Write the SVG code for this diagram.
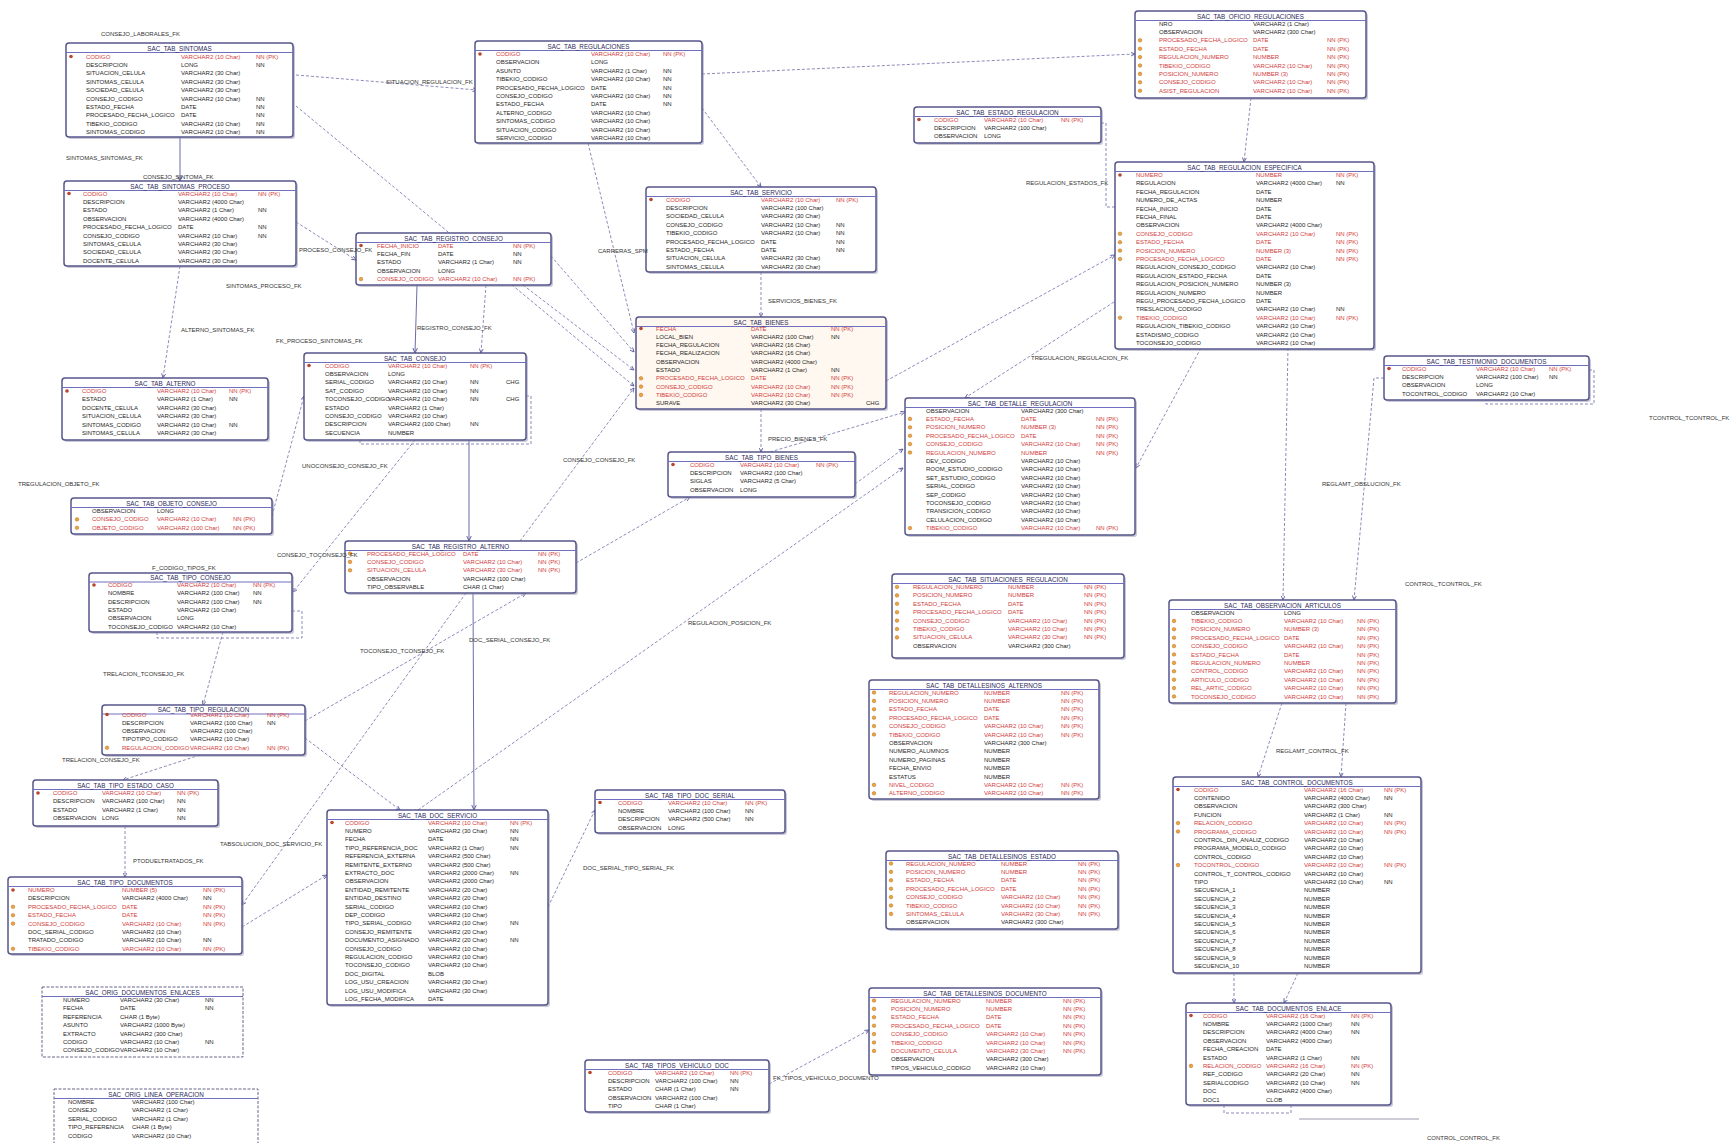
<svg xmlns="http://www.w3.org/2000/svg" xmlns:xlink="http://www.w3.org/1999/xlink" width="1730" height="1143" viewBox="0 0 1730 1143">
<style>
.bg{fill:#fff}
.box{fill:#fff;stroke:#55558a;stroke-width:1.5}
.boxd{fill:#fff;stroke:#66668a;stroke-width:1;stroke-dasharray:3 1.5}
.tint{fill:#fff8f0}
.sh{fill:#9c9cb8;opacity:.55}
.hd{stroke:#6f6fc0;stroke-width:1}
.tt{font-family:"Liberation Sans",Arial,sans-serif;font-size:6.3px;fill:#2a2a5a;text-anchor:middle}
.r{font-family:"Liberation Sans",Arial,sans-serif;font-size:6px;fill:#262626}
.k{fill:#d23c3c}
.lb{font-family:"Liberation Sans",Arial,sans-serif;font-size:6px;fill:#333}
.c{fill:none;stroke:#6d6daa;stroke-width:.8;stroke-dasharray:3 2;marker-end:url(#ar)}
.cs{fill:none;stroke:#5a5aa0;stroke-width:.9;marker-end:url(#ar)}
.cl{fill:none;stroke:#6d6daa;stroke-width:.8;stroke-dasharray:3 2}
</style>
<defs>
<marker id="ar" viewBox="0 0 6 6" refX="5.5" refY="3" markerWidth="6" markerHeight="6" orient="auto">
<path d="M0,0.5 L5.5,3 L0,5.5" fill="none" stroke="#4f4f95" stroke-width="1"/>
</marker>
<circle id="pk" r="1.8" fill="#b8452c"/>
<circle id="fk" r="1.8" fill="#f2a43a" stroke="#9a5a12" stroke-width=".4"/>
</defs>
<rect class="bg" x="0" y="0" width="1730" height="1143"/>

<g id="connectors">
<path class="c" d="M296,75 L477,90"/>
<path class="c" d="M296,106 L634,386"/>
<path class="cs" d="M180,137 L180,181"/>
<path class="c" d="M180,266 L163,378"/>
<path class="c" d="M296,222 L356,260"/>
<path class="c" d="M551,256 L634,352"/>
<path class="c" d="M523,285 L634,370"/>
<path class="c" d="M588,143 L634,333"/>
<path class="c" d="M702,74 L1135,54"/>
<path class="c" d="M702,108 L761,187"/>
<path class="cs" d="M417,285 L415,353"/>
<path class="c" d="M486,285 L481,353"/>
<path class="c" d="M761,272 L761,317"/>
<path class="c" d="M761,409 L761,452"/>
<path class="c" d="M272,516 L304,396"/>
<path class="c" d="M415,440 L293,592"/>
<path class="cl" d="M360,440 V444 H531 V396 H526"/>
<path class="cl" d="M292,611 H302 V638 H157 V632"/>
<path class="c" d="M223,632 L203,705"/>
<path class="c" d="M305,721 L526,593"/>
<path class="c" d="M466,593 L242,905"/>
<path class="c" d="M305,738 L400,810"/>
<path class="c" d="M242,927 L327,875"/>
<path class="c" d="M125,826 L125,877"/>
<path class="c" d="M200,755 L123,780"/>
<path class="cs" d="M469,440 L469,541"/>
<path class="cs" d="M473,593 L474,810"/>
<path class="c" d="M520,541 L634,388"/>
<path class="c" d="M576,563 L690,497"/>
<path class="c" d="M418,810 L903,468"/>
<path class="c" d="M886,381 L1115,255"/>
<path class="c" d="M770,452 L905,412"/>
<path class="c" d="M855,484 L903,449"/>
<path class="c" d="M1114,302 L965,398"/>
<path class="c" d="M1201,348 L1136,468"/>
<path class="c" d="M1288,348 L1283,600"/>
<path class="c" d="M1251,98 L1244,162"/>
<path class="cl" d="M1101,123 H1106 V207 H1115"/>
<path class="cl" d="M1589,370 H1594 V404 H1486 V400"/>
<path class="c" d="M1384,378 H1374 L1354,600"/>
<path class="c" d="M1346,703 L1341,777"/>
<path class="c" d="M1282,703 L1258,777"/>
<path class="c" d="M1234,973 L1234,1003"/>
<path class="c" d="M1298,973 L1284,1003"/>
<path class="cl" d="M1224,1105 V1113 H1291 V1105"/>
<path d="M1299,1119 H1419" stroke="#9a9ab0" stroke-width="1" fill="none"/>
<path class="c" d="M548,907 L595,810"/>
<path class="c" d="M769,1084 L869,1030"/>
</g>

<g id="sac_tab_sintomas">
<rect class="sh" x="68" y="45" width="227" height="94" rx="3"/>
<rect class="box" x="66" y="43" width="227" height="94" rx="3"/>
<line class="hd" x1="66" y1="52.5" x2="293" y2="52.5"/>
<text class="tt" x="179.5" y="50.5">SAC_TAB_SINTOMAS</text>
<use href="#pk" x="71" y="56.5"/>
<text class="r k" y="58.5"><tspan x="86">CODIGO</tspan><tspan x="181">VARCHAR2 (10 Char)</tspan><tspan x="256">NN (PK)</tspan></text>
<text class="r" y="66.9"><tspan x="86">DESCRIPCION</tspan><tspan x="181">LONG</tspan><tspan x="256">NN</tspan></text>
<text class="r" y="75.3"><tspan x="86">SITUACION_CELULA</tspan><tspan x="181">VARCHAR2 (30 Char)</tspan></text>
<text class="r" y="83.7"><tspan x="86">SINTOMAS_CELULA</tspan><tspan x="181">VARCHAR2 (30 Char)</tspan></text>
<text class="r" y="92.1"><tspan x="86">SOCIEDAD_CELULA</tspan><tspan x="181">VARCHAR2 (30 Char)</tspan></text>
<text class="r" y="100.5"><tspan x="86">CONSEJO_CODIGO</tspan><tspan x="181">VARCHAR2 (10 Char)</tspan><tspan x="256">NN</tspan></text>
<text class="r" y="108.9"><tspan x="86">ESTADO_FECHA</tspan><tspan x="181">DATE</tspan><tspan x="256">NN</tspan></text>
<text class="r" y="117.3"><tspan x="86">PROCESADO_FECHA_LOGICO</tspan><tspan x="181">DATE</tspan><tspan x="256">NN</tspan></text>
<text class="r" y="125.7"><tspan x="86">TIBEKIO_CODIGO</tspan><tspan x="181">VARCHAR2 (10 Char)</tspan><tspan x="256">NN</tspan></text>
<text class="r" y="134.1"><tspan x="86">SINTOMAS_CODIGO</tspan><tspan x="181">VARCHAR2 (10 Char)</tspan><tspan x="256">NN</tspan></text>
</g>

<g id="sac_tab_sintomas_proceso">
<rect class="sh" x="66" y="183" width="232" height="85" rx="3"/>
<rect class="box" x="64" y="181" width="232" height="85" rx="3"/>
<line class="hd" x1="64" y1="190.5" x2="296" y2="190.5"/>
<text class="tt" x="180" y="188.5">SAC_TAB_SINTOMAS_PROCESO</text>
<use href="#pk" x="69" y="193.5"/>
<text class="r k" y="195.5"><tspan x="83">CODIGO</tspan><tspan x="178">VARCHAR2 (10 Char)</tspan><tspan x="258">NN (PK)</tspan></text>
<text class="r" y="203.9"><tspan x="83">DESCRIPCION</tspan><tspan x="178">VARCHAR2 (4000 Char)</tspan></text>
<text class="r" y="212.3"><tspan x="83">ESTADO</tspan><tspan x="178">VARCHAR2 (1 Char)</tspan><tspan x="258">NN</tspan></text>
<text class="r" y="220.7"><tspan x="83">OBSERVACION</tspan><tspan x="178">VARCHAR2 (4000 Char)</tspan></text>
<text class="r" y="229.1"><tspan x="83">PROCESADO_FECHA_LOGICO</tspan><tspan x="178">DATE</tspan><tspan x="258">NN</tspan></text>
<text class="r" y="237.5"><tspan x="83">CONSEJO_CODIGO</tspan><tspan x="178">VARCHAR2 (10 Char)</tspan><tspan x="258">NN</tspan></text>
<text class="r" y="245.9"><tspan x="83">SINTOMAS_CELULA</tspan><tspan x="178">VARCHAR2 (30 Char)</tspan></text>
<text class="r" y="254.3"><tspan x="83">SOCIEDAD_CELULA</tspan><tspan x="178">VARCHAR2 (30 Char)</tspan></text>
<text class="r" y="262.7"><tspan x="83">DOCENTE_CELULA</tspan><tspan x="178">VARCHAR2 (30 Char)</tspan></text>
</g>

<g id="sac_tab_alterno">
<rect class="sh" x="64" y="380" width="206" height="62" rx="3"/>
<rect class="box" x="62" y="378" width="206" height="62" rx="3"/>
<line class="hd" x1="62" y1="387.5" x2="268" y2="387.5"/>
<text class="tt" x="165" y="385.5">SAC_TAB_ALTERNO</text>
<use href="#pk" x="67" y="391"/>
<text class="r k" y="393"><tspan x="82">CODIGO</tspan><tspan x="157">VARCHAR2 (10 Char)</tspan><tspan x="229">NN (PK)</tspan></text>
<text class="r" y="401.4"><tspan x="82">ESTADO</tspan><tspan x="157">VARCHAR2 (1 Char)</tspan><tspan x="229">NN</tspan></text>
<text class="r" y="409.8"><tspan x="82">DOCENTE_CELULA</tspan><tspan x="157">VARCHAR2 (30 Char)</tspan></text>
<text class="r" y="418.2"><tspan x="82">SITUACION_CELULA</tspan><tspan x="157">VARCHAR2 (30 Char)</tspan></text>
<text class="r" y="426.6"><tspan x="82">SINTOMAS_CODIGO</tspan><tspan x="157">VARCHAR2 (10 Char)</tspan><tspan x="229">NN</tspan></text>
<text class="r" y="435"><tspan x="82">SINTOMAS_CELULA</tspan><tspan x="157">VARCHAR2 (30 Char)</tspan></text>
</g>

<g id="sac_tab_objeto_consejo">
<rect class="sh" x="73" y="500" width="201" height="36" rx="3"/>
<rect class="box" x="71" y="498" width="201" height="36" rx="3"/>
<line class="hd" x1="71" y1="507.5" x2="272" y2="507.5"/>
<text class="tt" x="171.5" y="505.5">SAC_TAB_OBJETO_CONSEJO</text>
<text class="r" y="513"><tspan x="92">OBSERVACION</tspan><tspan x="157">LONG</tspan></text>
<use href="#fk" x="77" y="519.4"/>
<text class="r k" y="521.4"><tspan x="92">CONSEJO_CODIGO</tspan><tspan x="157">VARCHAR2 (10 Char)</tspan><tspan x="233">NN (PK)</tspan></text>
<use href="#fk" x="77" y="527.8"/>
<text class="r k" y="529.8"><tspan x="92">OBJETO_CODIGO</tspan><tspan x="157">VARCHAR2 (100 Char)</tspan><tspan x="233">NN (PK)</tspan></text>
</g>

<g id="sac_tab_tipo_consejo">
<rect class="sh" x="91" y="575" width="203" height="59" rx="3"/>
<rect class="box" x="89" y="573" width="203" height="59" rx="3"/>
<line class="hd" x1="89" y1="582" x2="292" y2="582"/>
<text class="tt" x="190.5" y="580">SAC_TAB_TIPO_CONSEJO</text>
<use href="#pk" x="94" y="585"/>
<text class="r k" y="587"><tspan x="108">CODIGO</tspan><tspan x="177">VARCHAR2 (10 Char)</tspan><tspan x="253">NN (PK)</tspan></text>
<text class="r" y="595.3"><tspan x="108">NOMBRE</tspan><tspan x="177">VARCHAR2 (100 Char)</tspan><tspan x="253">NN</tspan></text>
<text class="r" y="603.6"><tspan x="108">DESCRIPCION</tspan><tspan x="177">VARCHAR2 (100 Char)</tspan><tspan x="253">NN</tspan></text>
<text class="r" y="611.9"><tspan x="108">ESTADO</tspan><tspan x="177">VARCHAR2 (10 Char)</tspan></text>
<text class="r" y="620.2"><tspan x="108">OBSERVACION</tspan><tspan x="177">LONG</tspan></text>
<text class="r" y="628.5"><tspan x="108">TOCONSEJO_CODIGO</tspan><tspan x="177">VARCHAR2 (10 Char)</tspan></text>
</g>

<g id="sac_tab_tipo_regulacion">
<rect class="sh" x="104" y="707" width="203" height="50" rx="3"/>
<rect class="box" x="102" y="705" width="203" height="50" rx="3"/>
<line class="hd" x1="102" y1="714" x2="305" y2="714"/>
<text class="tt" x="203.5" y="712">SAC_TAB_TIPO_REGULACION</text>
<use href="#pk" x="107" y="714.5"/>
<text class="r k" y="716.5"><tspan x="122">CODIGO</tspan><tspan x="190">VARCHAR2 (10 Char)</tspan><tspan x="267">NN (PK)</tspan></text>
<text class="r" y="724.8"><tspan x="122">DESCRIPCION</tspan><tspan x="190">VARCHAR2 (100 Char)</tspan><tspan x="267">NN</tspan></text>
<text class="r" y="733.1"><tspan x="122">OBSERVACION</tspan><tspan x="190">VARCHAR2 (100 Char)</tspan></text>
<text class="r" y="741.4"><tspan x="122">TIPOTIPO_CODIGO</tspan><tspan x="190">VARCHAR2 (10 Char)</tspan></text>
<use href="#fk" x="107" y="747.7"/>
<text class="r k" y="749.7"><tspan x="122">REGULACION_CODIGO</tspan><tspan x="190">VARCHAR2 (10 Char)</tspan><tspan x="267">NN (PK)</tspan></text>
</g>

<g id="sac_tab_tipo_estado_caso">
<rect class="sh" x="35" y="782" width="185" height="46" rx="3"/>
<rect class="box" x="33" y="780" width="185" height="46" rx="3"/>
<line class="hd" x1="33" y1="789.5" x2="218" y2="789.5"/>
<text class="tt" x="125.5" y="787.5">SAC_TAB_TIPO_ESTADO_CASO</text>
<use href="#pk" x="38" y="793"/>
<text class="r k" y="795"><tspan x="53">CODIGO</tspan><tspan x="102">VARCHAR2 (10 Char)</tspan><tspan x="177">NN (PK)</tspan></text>
<text class="r" y="803.4"><tspan x="53">DESCRIPCION</tspan><tspan x="102">VARCHAR2 (100 Char)</tspan><tspan x="177">NN</tspan></text>
<text class="r" y="811.8"><tspan x="53">ESTADO</tspan><tspan x="102">VARCHAR2 (1 Char)</tspan><tspan x="177">NN</tspan></text>
<text class="r" y="820.2"><tspan x="53">OBSERVACION</tspan><tspan x="102">LONG</tspan><tspan x="177">NN</tspan></text>
</g>

<g id="sac_tab_tipo_documentos">
<rect class="sh" x="10" y="879" width="234" height="77" rx="3"/>
<rect class="box" x="8" y="877" width="234" height="77" rx="3"/>
<line class="hd" x1="8" y1="886.5" x2="242" y2="886.5"/>
<text class="tt" x="125" y="884.5">SAC_TAB_TIPO_DOCUMENTOS</text>
<use href="#pk" x="13" y="890"/>
<text class="r k" y="892"><tspan x="28">NUMERO</tspan><tspan x="122">NUMBER (5)</tspan><tspan x="203">NN (PK)</tspan></text>
<text class="r" y="900.4"><tspan x="28">DESCRIPCION</tspan><tspan x="122">VARCHAR2 (4000 Char)</tspan><tspan x="203">NN</tspan></text>
<use href="#fk" x="13" y="906.8"/>
<text class="r k" y="908.8"><tspan x="28">PROCESADO_FECHA_LOGICO</tspan><tspan x="122">DATE</tspan><tspan x="203">NN (PK)</tspan></text>
<use href="#fk" x="13" y="915.2"/>
<text class="r k" y="917.2"><tspan x="28">ESTADO_FECHA</tspan><tspan x="122">DATE</tspan><tspan x="203">NN (PK)</tspan></text>
<use href="#fk" x="13" y="923.6"/>
<text class="r k" y="925.6"><tspan x="28">CONSEJO_CODIGO</tspan><tspan x="122">VARCHAR2 (10 Char)</tspan><tspan x="203">NN (PK)</tspan></text>
<text class="r" y="934"><tspan x="28">DOC_SERIAL_CODIGO</tspan><tspan x="122">VARCHAR2 (10 Char)</tspan></text>
<text class="r" y="942.4"><tspan x="28">TRATADO_CODIGO</tspan><tspan x="122">VARCHAR2 (10 Char)</tspan><tspan x="203">NN</tspan></text>
<use href="#fk" x="13" y="948.8"/>
<text class="r k" y="950.8"><tspan x="28">TIBEKIO_CODIGO</tspan><tspan x="122">VARCHAR2 (10 Char)</tspan><tspan x="203">NN (PK)</tspan></text>
</g>

<g id="sac_orig_documentos_enlaces">
<rect class="boxd" x="42" y="987" width="201" height="70"/>
<line class="hd" x1="42" y1="996.5" x2="243" y2="996.5"/>
<text class="tt" x="142.5" y="994.5">SAC_ORIG_DOCUMENTOS_ENLACES</text>
<text class="r" y="1002"><tspan x="63">NUMERO</tspan><tspan x="120">VARCHAR2 (30 Char)</tspan><tspan x="205">NN</tspan></text>
<text class="r" y="1010.4"><tspan x="63">FECHA</tspan><tspan x="120">DATE</tspan><tspan x="205">NN</tspan></text>
<text class="r" y="1018.8"><tspan x="63">REFERENCIA</tspan><tspan x="120">CHAR (1 Byte)</tspan></text>
<text class="r" y="1027.2"><tspan x="63">ASUNTO</tspan><tspan x="120">VARCHAR2 (1000 Byte)</tspan></text>
<text class="r" y="1035.6"><tspan x="63">EXTRACTO</tspan><tspan x="120">VARCHAR2 (300 Char)</tspan></text>
<text class="r" y="1044"><tspan x="63">CODIGO</tspan><tspan x="120">VARCHAR2 (10 Char)</tspan><tspan x="205">NN</tspan></text>
<text class="r" y="1052.4"><tspan x="63">CONSEJO_CODIGO</tspan><tspan x="120">VARCHAR2 (10 Char)</tspan></text>
</g>

<g id="sac_orig_linea_operacion">
<rect class="boxd" x="54" y="1089" width="204" height="60"/>
<line class="hd" x1="54" y1="1098.5" x2="258" y2="1098.5"/>
<text class="tt" x="156" y="1096.5">SAC_ORIG_LINEA_OPERACION</text>
<text class="r" y="1104"><tspan x="68">NOMBRE</tspan><tspan x="132">VARCHAR2 (100 Char)</tspan></text>
<text class="r" y="1112.4"><tspan x="68">CONSEJO</tspan><tspan x="132">VARCHAR2 (1 Char)</tspan></text>
<text class="r" y="1120.8"><tspan x="68">SERIAL_CODIGO</tspan><tspan x="132">VARCHAR2 (1 Char)</tspan></text>
<text class="r" y="1129.2"><tspan x="68">TIPO_REFERENCIA</tspan><tspan x="132">CHAR (1 Byte)</tspan></text>
<text class="r" y="1137.6"><tspan x="68">CODIGO</tspan><tspan x="132">VARCHAR2 (10 Char)</tspan></text>
</g>

<g id="sac_tab_regulaciones">
<rect class="sh" x="477" y="43" width="227" height="102" rx="3"/>
<rect class="box" x="475" y="41" width="227" height="102" rx="3"/>
<line class="hd" x1="475" y1="50.5" x2="702" y2="50.5"/>
<text class="tt" x="588.5" y="48.5">SAC_TAB_REGULACIONES</text>
<use href="#pk" x="480" y="54"/>
<text class="r k" y="56"><tspan x="496">CODIGO</tspan><tspan x="591">VARCHAR2 (10 Char)</tspan><tspan x="663">NN (PK)</tspan></text>
<text class="r" y="64.4"><tspan x="496">OBSERVACION</tspan><tspan x="591">LONG</tspan></text>
<text class="r" y="72.8"><tspan x="496">ASUNTO</tspan><tspan x="591">VARCHAR2 (1 Char)</tspan><tspan x="663">NN</tspan></text>
<text class="r" y="81.2"><tspan x="496">TIBEKIO_CODIGO</tspan><tspan x="591">VARCHAR2 (10 Char)</tspan><tspan x="663">NN</tspan></text>
<text class="r" y="89.6"><tspan x="496">PROCESADO_FECHA_LOGICO</tspan><tspan x="591">DATE</tspan><tspan x="663">NN</tspan></text>
<text class="r" y="98"><tspan x="496">CONSEJO_CODIGO</tspan><tspan x="591">VARCHAR2 (10 Char)</tspan><tspan x="663">NN</tspan></text>
<text class="r" y="106.4"><tspan x="496">ESTADO_FECHA</tspan><tspan x="591">DATE</tspan><tspan x="663">NN</tspan></text>
<text class="r" y="114.8"><tspan x="496">ALTERNO_CODIGO</tspan><tspan x="591">VARCHAR2 (10 Char)</tspan></text>
<text class="r" y="123.2"><tspan x="496">SINTOMAS_CODIGO</tspan><tspan x="591">VARCHAR2 (10 Char)</tspan></text>
<text class="r" y="131.6"><tspan x="496">SITUACION_CODIGO</tspan><tspan x="591">VARCHAR2 (10 Char)</tspan></text>
<text class="r" y="140"><tspan x="496">SERVICIO_CODIGO</tspan><tspan x="591">VARCHAR2 (10 Char)</tspan></text>
</g>

<g id="sac_tab_registro_consejo">
<rect class="sh" x="358" y="235" width="195" height="52" rx="3"/>
<rect class="box" x="356" y="233" width="195" height="52" rx="3"/>
<line class="hd" x1="356" y1="242.5" x2="551" y2="242.5"/>
<text class="tt" x="453.5" y="240.5">SAC_TAB_REGISTRO_CONSEJO</text>
<use href="#pk" x="361" y="245.5"/>
<text class="r k" y="247.5"><tspan x="377">FECHA_INICIO</tspan><tspan x="438">DATE</tspan><tspan x="513">NN (PK)</tspan></text>
<text class="r" y="255.9"><tspan x="377">FECHA_FIN</tspan><tspan x="438">DATE</tspan><tspan x="513">NN</tspan></text>
<text class="r" y="264.3"><tspan x="377">ESTADO</tspan><tspan x="438">VARCHAR2 (1 Char)</tspan><tspan x="513">NN</tspan></text>
<text class="r" y="272.7"><tspan x="377">OBSERVACION</tspan><tspan x="438">LONG</tspan></text>
<use href="#fk" x="361" y="279.1"/>
<text class="r k" y="281.1"><tspan x="377">CONSEJO_CODIGO</tspan><tspan x="438">VARCHAR2 (10 Char)</tspan><tspan x="513">NN (PK)</tspan></text>
</g>

<g id="sac_tab_consejo">
<rect class="sh" x="306" y="355" width="222" height="87" rx="3"/>
<rect class="box" x="304" y="353" width="222" height="87" rx="3"/>
<line class="hd" x1="304" y1="362.5" x2="526" y2="362.5"/>
<text class="tt" x="415" y="360.5">SAC_TAB_CONSEJO</text>
<use href="#pk" x="309" y="365.5"/>
<text class="r k" y="367.5"><tspan x="325">CODIGO</tspan><tspan x="388">VARCHAR2 (10 Char)</tspan><tspan x="470">NN (PK)</tspan></text>
<text class="r" y="375.9"><tspan x="325">OBSERVACION</tspan><tspan x="388">LONG</tspan></text>
<text class="r" y="384.3"><tspan x="325">SERIAL_CODIGO</tspan><tspan x="388">VARCHAR2 (10 Char)</tspan><tspan x="470">NN</tspan><tspan x="506">CHG</tspan></text>
<text class="r" y="392.7"><tspan x="325">SAT_CODIGO</tspan><tspan x="388">VARCHAR2 (10 Char)</tspan><tspan x="470">NN</tspan></text>
<text class="r" y="401.1"><tspan x="325">TOCONSEJO_CODIGO</tspan><tspan x="388">VARCHAR2 (10 Char)</tspan><tspan x="470">NN</tspan><tspan x="506">CHG</tspan></text>
<text class="r" y="409.5"><tspan x="325">ESTADO</tspan><tspan x="388">VARCHAR2 (1 Char)</tspan></text>
<text class="r" y="417.9"><tspan x="325">CONSEJO_CODIGO</tspan><tspan x="388">VARCHAR2 (10 Char)</tspan></text>
<text class="r" y="426.3"><tspan x="325">DESCRIPCION</tspan><tspan x="388">VARCHAR2 (100 Char)</tspan><tspan x="470">NN</tspan></text>
<text class="r" y="434.7"><tspan x="325">SECUENCIA</tspan><tspan x="388">NUMBER</tspan></text>
</g>

<g id="sac_tab_registro_alterno">
<rect class="sh" x="347" y="543" width="231" height="52" rx="3"/>
<rect class="box" x="345" y="541" width="231" height="52" rx="3"/>
<line class="hd" x1="345" y1="550.5" x2="576" y2="550.5"/>
<text class="tt" x="460.5" y="548.5">SAC_TAB_REGISTRO_ALTERNO</text>
<use href="#fk" x="350" y="553.5"/>
<text class="r k" y="555.5"><tspan x="367">PROCESADO_FECHA_LOGICO</tspan><tspan x="463">DATE</tspan><tspan x="538">NN (PK)</tspan></text>
<use href="#fk" x="350" y="561.9"/>
<text class="r k" y="563.9"><tspan x="367">CONSEJO_CODIGO</tspan><tspan x="463">VARCHAR2 (10 Char)</tspan><tspan x="538">NN (PK)</tspan></text>
<use href="#fk" x="350" y="570.3"/>
<text class="r k" y="572.3"><tspan x="367">SITUACION_CELULA</tspan><tspan x="463">VARCHAR2 (30 Char)</tspan><tspan x="538">NN (PK)</tspan></text>
<text class="r" y="580.7"><tspan x="367">OBSERVACION</tspan><tspan x="463">VARCHAR2 (100 Char)</tspan></text>
<text class="r" y="589.1"><tspan x="367">TIPO_OBSERVABLE</tspan><tspan x="463">CHAR (1 Char)</tspan></text>
</g>

<g id="sac_tab_doc_servicio">
<rect class="sh" x="329" y="812" width="221" height="195" rx="3"/>
<rect class="box" x="327" y="810" width="221" height="195" rx="3"/>
<line class="hd" x1="327" y1="819.5" x2="548" y2="819.5"/>
<text class="tt" x="437.5" y="817.5">SAC_TAB_DOC_SERVICIO</text>
<use href="#pk" x="332" y="822.5"/>
<text class="r k" y="824.5"><tspan x="345">CODIGO</tspan><tspan x="428">VARCHAR2 (10 Char)</tspan><tspan x="510">NN (PK)</tspan></text>
<text class="r" y="832.9"><tspan x="345">NUMERO</tspan><tspan x="428">VARCHAR2 (30 Char)</tspan><tspan x="510">NN</tspan></text>
<text class="r" y="841.3"><tspan x="345">FECHA</tspan><tspan x="428">DATE</tspan><tspan x="510">NN</tspan></text>
<text class="r" y="849.7"><tspan x="345">TIPO_REFERENCIA_DOC</tspan><tspan x="428">VARCHAR2 (1 Char)</tspan><tspan x="510">NN</tspan></text>
<text class="r" y="858.1"><tspan x="345">REFERENCIA_EXTERNA</tspan><tspan x="428">VARCHAR2 (500 Char)</tspan></text>
<text class="r" y="866.5"><tspan x="345">REMITENTE_EXTERNO</tspan><tspan x="428">VARCHAR2 (500 Char)</tspan></text>
<text class="r" y="874.9"><tspan x="345">EXTRACTO_DOC</tspan><tspan x="428">VARCHAR2 (2000 Char)</tspan><tspan x="510">NN</tspan></text>
<text class="r" y="883.3"><tspan x="345">OBSERVACION</tspan><tspan x="428">VARCHAR2 (2000 Char)</tspan></text>
<text class="r" y="891.7"><tspan x="345">ENTIDAD_REMITENTE</tspan><tspan x="428">VARCHAR2 (20 Char)</tspan></text>
<text class="r" y="900.1"><tspan x="345">ENTIDAD_DESTINO</tspan><tspan x="428">VARCHAR2 (20 Char)</tspan></text>
<text class="r" y="908.5"><tspan x="345">SERIAL_CODIGO</tspan><tspan x="428">VARCHAR2 (10 Char)</tspan></text>
<text class="r" y="916.9"><tspan x="345">DEP_CODIGO</tspan><tspan x="428">VARCHAR2 (10 Char)</tspan></text>
<text class="r" y="925.3"><tspan x="345">TIPO_SERIAL_CODIGO</tspan><tspan x="428">VARCHAR2 (10 Char)</tspan><tspan x="510">NN</tspan></text>
<text class="r" y="933.7"><tspan x="345">CONSEJO_REMITENTE</tspan><tspan x="428">VARCHAR2 (20 Char)</tspan></text>
<text class="r" y="942.1"><tspan x="345">DOCUMENTO_ASIGNADO</tspan><tspan x="428">VARCHAR2 (20 Char)</tspan><tspan x="510">NN</tspan></text>
<text class="r" y="950.5"><tspan x="345">CONSEJO_CODIGO</tspan><tspan x="428">VARCHAR2 (10 Char)</tspan></text>
<text class="r" y="958.9"><tspan x="345">REGULACION_CODIGO</tspan><tspan x="428">VARCHAR2 (10 Char)</tspan></text>
<text class="r" y="967.3"><tspan x="345">TOCONSEJO_CODIGO</tspan><tspan x="428">VARCHAR2 (10 Char)</tspan></text>
<text class="r" y="975.7"><tspan x="345">DOC_DIGITAL</tspan><tspan x="428">BLOB</tspan></text>
<text class="r" y="984.1"><tspan x="345">LOG_USU_CREACION</tspan><tspan x="428">VARCHAR2 (30 Char)</tspan></text>
<text class="r" y="992.5"><tspan x="345">LOG_USU_MODIFICA</tspan><tspan x="428">VARCHAR2 (30 Char)</tspan></text>
<text class="r" y="1000.9"><tspan x="345">LOG_FECHA_MODIFICA</tspan><tspan x="428">DATE</tspan></text>
</g>

<g id="sac_tab_tipo_doc_serial">
<rect class="sh" x="597" y="792" width="190" height="43" rx="3"/>
<rect class="box" x="595" y="790" width="190" height="43" rx="3"/>
<line class="hd" x1="595" y1="799.5" x2="785" y2="799.5"/>
<text class="tt" x="690" y="797.5">SAC_TAB_TIPO_DOC_SERIAL</text>
<use href="#pk" x="600" y="802.5"/>
<text class="r k" y="804.5"><tspan x="618">CODIGO</tspan><tspan x="668">VARCHAR2 (10 Char)</tspan><tspan x="745">NN (PK)</tspan></text>
<text class="r" y="812.9"><tspan x="618">NOMBRE</tspan><tspan x="668">VARCHAR2 (100 Char)</tspan><tspan x="745">NN</tspan></text>
<text class="r" y="821.3"><tspan x="618">DESCRIPCION</tspan><tspan x="668">VARCHAR2 (500 Char)</tspan><tspan x="745">NN</tspan></text>
<text class="r" y="829.7"><tspan x="618">OBSERVACION</tspan><tspan x="668">LONG</tspan></text>
</g>

<g id="sac_tab_tipos_vehiculo_doc">
<rect class="sh" x="587" y="1062" width="184" height="52" rx="3"/>
<rect class="box" x="585" y="1060" width="184" height="52" rx="3"/>
<line class="hd" x1="585" y1="1069.5" x2="769" y2="1069.5"/>
<text class="tt" x="677" y="1067.5">SAC_TAB_TIPOS_VEHICULO_DOC</text>
<use href="#pk" x="590" y="1072.5"/>
<text class="r k" y="1074.5"><tspan x="608">CODIGO</tspan><tspan x="655">VARCHAR2 (10 Char)</tspan><tspan x="730">NN (PK)</tspan></text>
<text class="r" y="1082.9"><tspan x="608">DESCRIPCION</tspan><tspan x="655">VARCHAR2 (100 Char)</tspan><tspan x="730">NN</tspan></text>
<text class="r" y="1091.3"><tspan x="608">ESTADO</tspan><tspan x="655">CHAR (1 Char)</tspan><tspan x="730">NN</tspan></text>
<text class="r" y="1099.7"><tspan x="608">OBSERVACION</tspan><tspan x="655">VARCHAR2 (100 Char)</tspan></text>
<text class="r" y="1108.1"><tspan x="608">TIPO</tspan><tspan x="655">CHAR (1 Char)</tspan></text>
</g>

<g id="sac_tab_servicio">
<rect class="sh" x="648" y="189" width="230" height="85" rx="3"/>
<rect class="box" x="646" y="187" width="230" height="85" rx="3"/>
<line class="hd" x1="646" y1="196.5" x2="876" y2="196.5"/>
<text class="tt" x="761" y="194.5">SAC_TAB_SERVICIO</text>
<use href="#pk" x="651" y="199.5"/>
<text class="r k" y="201.5"><tspan x="666">CODIGO</tspan><tspan x="761">VARCHAR2 (10 Char)</tspan><tspan x="836">NN (PK)</tspan></text>
<text class="r" y="209.9"><tspan x="666">DESCRIPCION</tspan><tspan x="761">VARCHAR2 (100 Char)</tspan></text>
<text class="r" y="218.3"><tspan x="666">SOCIEDAD_CELULA</tspan><tspan x="761">VARCHAR2 (30 Char)</tspan></text>
<text class="r" y="226.7"><tspan x="666">CONSEJO_CODIGO</tspan><tspan x="761">VARCHAR2 (10 Char)</tspan><tspan x="836">NN</tspan></text>
<text class="r" y="235.1"><tspan x="666">TIBEKIO_CODIGO</tspan><tspan x="761">VARCHAR2 (10 Char)</tspan><tspan x="836">NN</tspan></text>
<text class="r" y="243.5"><tspan x="666">PROCESADO_FECHA_LOGICO</tspan><tspan x="761">DATE</tspan><tspan x="836">NN</tspan></text>
<text class="r" y="251.9"><tspan x="666">ESTADO_FECHA</tspan><tspan x="761">DATE</tspan><tspan x="836">NN</tspan></text>
<text class="r" y="260.3"><tspan x="666">SITUACION_CELULA</tspan><tspan x="761">VARCHAR2 (30 Char)</tspan></text>
<text class="r" y="268.7"><tspan x="666">SINTOMAS_CELULA</tspan><tspan x="761">VARCHAR2 (30 Char)</tspan></text>
</g>

<g id="sac_tab_bienes">
<rect class="sh" x="638" y="319" width="250" height="92" rx="3"/>
<rect class="box tint" x="636" y="317" width="250" height="92" rx="3"/>
<line class="hd" x1="636" y1="326.5" x2="886" y2="326.5"/>
<text class="tt" x="761" y="324.5">SAC_TAB_BIENES</text>
<use href="#pk" x="641" y="328.5"/>
<text class="r k" y="330.5"><tspan x="656">FECHA</tspan><tspan x="751">DATE</tspan><tspan x="831">NN (PK)</tspan></text>
<text class="r" y="338.8"><tspan x="656">LOCAL_BIEN</tspan><tspan x="751">VARCHAR2 (100 Char)</tspan><tspan x="831">NN</tspan></text>
<text class="r" y="347.1"><tspan x="656">FECHA_REGULACION</tspan><tspan x="751">VARCHAR2 (16 Char)</tspan></text>
<text class="r" y="355.4"><tspan x="656">FECHA_REALIZACION</tspan><tspan x="751">VARCHAR2 (16 Char)</tspan></text>
<text class="r" y="363.7"><tspan x="656">OBSERVACION</tspan><tspan x="751">VARCHAR2 (4000 Char)</tspan></text>
<text class="r" y="372"><tspan x="656">ESTADO</tspan><tspan x="751">VARCHAR2 (1 Char)</tspan><tspan x="831">NN</tspan></text>
<use href="#fk" x="641" y="378.3"/>
<text class="r k" y="380.3"><tspan x="656">PROCESADO_FECHA_LOGICO</tspan><tspan x="751">DATE</tspan><tspan x="831">NN (PK)</tspan></text>
<use href="#fk" x="641" y="386.6"/>
<text class="r k" y="388.6"><tspan x="656">CONSEJO_CODIGO</tspan><tspan x="751">VARCHAR2 (10 Char)</tspan><tspan x="831">NN (PK)</tspan></text>
<use href="#fk" x="641" y="394.9"/>
<text class="r k" y="396.9"><tspan x="656">TIBEKIO_CODIGO</tspan><tspan x="751">VARCHAR2 (10 Char)</tspan><tspan x="831">NN (PK)</tspan></text>
<text class="r" y="405.2"><tspan x="656">SURAVE</tspan><tspan x="751">VARCHAR2 (30 Char)</tspan><tspan x="866">CHG</tspan></text>
</g>

<g id="sac_tab_tipo_bienes">
<rect class="sh" x="670" y="454" width="187" height="45" rx="3"/>
<rect class="box" x="668" y="452" width="187" height="45" rx="3"/>
<line class="hd" x1="668" y1="461.5" x2="855" y2="461.5"/>
<text class="tt" x="761.5" y="459.5">SAC_TAB_TIPO_BIENES</text>
<use href="#pk" x="673" y="464.5"/>
<text class="r k" y="466.5"><tspan x="690">CODIGO</tspan><tspan x="740">VARCHAR2 (10 Char)</tspan><tspan x="816">NN (PK)</tspan></text>
<text class="r" y="474.9"><tspan x="690">DESCRIPCION</tspan><tspan x="740">VARCHAR2 (100 Char)</tspan></text>
<text class="r" y="483.3"><tspan x="690">SIGLAS</tspan><tspan x="740">VARCHAR2 (5 Char)</tspan></text>
<text class="r" y="491.7"><tspan x="690">OBSERVACION</tspan><tspan x="740">LONG</tspan></text>
</g>

<g id="sac_tab_estado_regulacion">
<rect class="sh" x="916" y="109" width="187" height="36" rx="3"/>
<rect class="box" x="914" y="107" width="187" height="36" rx="3"/>
<line class="hd" x1="914" y1="116.5" x2="1101" y2="116.5"/>
<text class="tt" x="1007.5" y="114.5">SAC_TAB_ESTADO_REGULACION</text>
<use href="#pk" x="919" y="119.5"/>
<text class="r k" y="121.5"><tspan x="934">CODIGO</tspan><tspan x="984">VARCHAR2 (10 Char)</tspan><tspan x="1061">NN (PK)</tspan></text>
<text class="r" y="129.9"><tspan x="934">DESCRIPCION</tspan><tspan x="984">VARCHAR2 (100 Char)</tspan></text>
<text class="r" y="138.3"><tspan x="934">OBSERVACION</tspan><tspan x="984">LONG</tspan></text>
</g>

<g id="sac_tab_oficio_regulaciones">
<rect class="sh" x="1137" y="13" width="231" height="87" rx="3"/>
<rect class="box" x="1135" y="11" width="231" height="87" rx="3"/>
<line class="hd" x1="1135" y1="20.5" x2="1366" y2="20.5"/>
<text class="tt" x="1250.5" y="18.5">SAC_TAB_OFICIO_REGULACIONES</text>
<text class="r" y="25.5"><tspan x="1159">NRO</tspan><tspan x="1253">VARCHAR2 (1 Char)</tspan></text>
<text class="r" y="33.9"><tspan x="1159">OBSERVACION</tspan><tspan x="1253">VARCHAR2 (300 Char)</tspan></text>
<use href="#fk" x="1140" y="40.3"/>
<text class="r k" y="42.3"><tspan x="1159">PROCESADO_FECHA_LOGICO</tspan><tspan x="1253">DATE</tspan><tspan x="1327">NN (PK)</tspan></text>
<use href="#fk" x="1140" y="48.7"/>
<text class="r k" y="50.7"><tspan x="1159">ESTADO_FECHA</tspan><tspan x="1253">DATE</tspan><tspan x="1327">NN (PK)</tspan></text>
<use href="#fk" x="1140" y="57.1"/>
<text class="r k" y="59.1"><tspan x="1159">REGULACION_NUMERO</tspan><tspan x="1253">NUMBER</tspan><tspan x="1327">NN (PK)</tspan></text>
<use href="#fk" x="1140" y="65.5"/>
<text class="r k" y="67.5"><tspan x="1159">TIBEKIO_CODIGO</tspan><tspan x="1253">VARCHAR2 (10 Char)</tspan><tspan x="1327">NN (PK)</tspan></text>
<use href="#fk" x="1140" y="73.9"/>
<text class="r k" y="75.9"><tspan x="1159">POSICION_NUMERO</tspan><tspan x="1253">NUMBER (3)</tspan><tspan x="1327">NN (PK)</tspan></text>
<use href="#fk" x="1140" y="82.3"/>
<text class="r k" y="84.3"><tspan x="1159">CONSEJO_CODIGO</tspan><tspan x="1253">VARCHAR2 (10 Char)</tspan><tspan x="1327">NN (PK)</tspan></text>
<use href="#fk" x="1140" y="90.7"/>
<text class="r k" y="92.7"><tspan x="1159">ASIST_REGULACION</tspan><tspan x="1253">VARCHAR2 (10 Char)</tspan><tspan x="1327">NN (PK)</tspan></text>
</g>

<g id="sac_tab_regulacion_especifica">
<rect class="sh" x="1117" y="164" width="259" height="187" rx="3"/>
<rect class="box" x="1115" y="162" width="259" height="187" rx="3"/>
<line class="hd" x1="1115" y1="171.5" x2="1374" y2="171.5"/>
<text class="tt" x="1244.5" y="169.5">SAC_TAB_REGULACION_ESPECIFICA</text>
<use href="#pk" x="1120" y="175"/>
<text class="r k" y="177"><tspan x="1136">NUMERO</tspan><tspan x="1256">NUMBER</tspan><tspan x="1336">NN (PK)</tspan></text>
<text class="r" y="185.4"><tspan x="1136">REGULACION</tspan><tspan x="1256">VARCHAR2 (4000 Char)</tspan><tspan x="1336">NN</tspan></text>
<text class="r" y="193.8"><tspan x="1136">FECHA_REGULACION</tspan><tspan x="1256">DATE</tspan></text>
<text class="r" y="202.2"><tspan x="1136">NUMERO_DE_ACTAS</tspan><tspan x="1256">NUMBER</tspan></text>
<text class="r" y="210.6"><tspan x="1136">FECHA_INICIO</tspan><tspan x="1256">DATE</tspan></text>
<text class="r" y="219"><tspan x="1136">FECHA_FINAL</tspan><tspan x="1256">DATE</tspan></text>
<text class="r" y="227.4"><tspan x="1136">OBSERVACION</tspan><tspan x="1256">VARCHAR2 (4000 Char)</tspan></text>
<use href="#fk" x="1120" y="233.8"/>
<text class="r k" y="235.8"><tspan x="1136">CONSEJO_CODIGO</tspan><tspan x="1256">VARCHAR2 (10 Char)</tspan><tspan x="1336">NN (PK)</tspan></text>
<use href="#fk" x="1120" y="242.2"/>
<text class="r k" y="244.2"><tspan x="1136">ESTADO_FECHA</tspan><tspan x="1256">DATE</tspan><tspan x="1336">NN (PK)</tspan></text>
<use href="#fk" x="1120" y="250.6"/>
<text class="r k" y="252.6"><tspan x="1136">POSICION_NUMERO</tspan><tspan x="1256">NUMBER (3)</tspan><tspan x="1336">NN (PK)</tspan></text>
<use href="#fk" x="1120" y="259"/>
<text class="r k" y="261"><tspan x="1136">PROCESADO_FECHA_LOGICO</tspan><tspan x="1256">DATE</tspan><tspan x="1336">NN (PK)</tspan></text>
<text class="r" y="269.4"><tspan x="1136">REGULACION_CONSEJO_CODIGO</tspan><tspan x="1256">VARCHAR2 (10 Char)</tspan></text>
<text class="r" y="277.8"><tspan x="1136">REGULACION_ESTADO_FECHA</tspan><tspan x="1256">DATE</tspan></text>
<text class="r" y="286.2"><tspan x="1136">REGULACION_POSICION_NUMERO</tspan><tspan x="1256">NUMBER (3)</tspan></text>
<text class="r" y="294.6"><tspan x="1136">REGULACION_NUMERO</tspan><tspan x="1256">NUMBER</tspan></text>
<text class="r" y="303"><tspan x="1136">REGU_PROCESADO_FECHA_LOGICO</tspan><tspan x="1256">DATE</tspan></text>
<text class="r" y="311.4"><tspan x="1136">TRESLACION_CODIGO</tspan><tspan x="1256">VARCHAR2 (10 Char)</tspan><tspan x="1336">NN</tspan></text>
<use href="#fk" x="1120" y="317.8"/>
<text class="r k" y="319.8"><tspan x="1136">TIBEKIO_CODIGO</tspan><tspan x="1256">VARCHAR2 (10 Char)</tspan><tspan x="1336">NN (PK)</tspan></text>
<text class="r" y="328.2"><tspan x="1136">REGULACION_TIBEKIO_CODIGO</tspan><tspan x="1256">VARCHAR2 (10 Char)</tspan></text>
<text class="r" y="336.6"><tspan x="1136">ESTADISMO_CODIGO</tspan><tspan x="1256">VARCHAR2 (10 Char)</tspan></text>
<text class="r" y="345"><tspan x="1136">TOCONSEJO_CODIGO</tspan><tspan x="1256">VARCHAR2 (10 Char)</tspan></text>
</g>

<g id="sac_tab_testimonio_documentos">
<rect class="sh" x="1386" y="358" width="205" height="44" rx="3"/>
<rect class="box" x="1384" y="356" width="205" height="44" rx="3"/>
<line class="hd" x1="1384" y1="365.5" x2="1589" y2="365.5"/>
<text class="tt" x="1486.5" y="363.5">SAC_TAB_TESTIMONIO_DOCUMENTOS</text>
<use href="#pk" x="1389" y="368.5"/>
<text class="r k" y="370.5"><tspan x="1402">CODIGO</tspan><tspan x="1476">VARCHAR2 (10 Char)</tspan><tspan x="1549">NN (PK)</tspan></text>
<text class="r" y="378.9"><tspan x="1402">DESCRIPCION</tspan><tspan x="1476">VARCHAR2 (100 Char)</tspan><tspan x="1549">NN</tspan></text>
<text class="r" y="387.3"><tspan x="1402">OBSERVACION</tspan><tspan x="1476">LONG</tspan></text>
<text class="r" y="395.7"><tspan x="1402">TOCONTROL_CODIGO</tspan><tspan x="1476">VARCHAR2 (10 Char)</tspan></text>
</g>

<g id="sac_tab_detalle_regulacion">
<rect class="sh" x="907" y="400" width="230" height="137" rx="3"/>
<rect class="box" x="905" y="398" width="230" height="137" rx="3"/>
<line class="hd" x1="905" y1="407.5" x2="1135" y2="407.5"/>
<text class="tt" x="1020" y="405.5">SAC_TAB_DETALLE_REGULACION</text>
<text class="r" y="412.5"><tspan x="926">OBSERVACION</tspan><tspan x="1021">VARCHAR2 (300 Char)</tspan></text>
<use href="#fk" x="910" y="418.9"/>
<text class="r k" y="420.9"><tspan x="926">ESTADO_FECHA</tspan><tspan x="1021">DATE</tspan><tspan x="1096">NN (PK)</tspan></text>
<use href="#fk" x="910" y="427.3"/>
<text class="r k" y="429.3"><tspan x="926">POSICION_NUMERO</tspan><tspan x="1021">NUMBER (3)</tspan><tspan x="1096">NN (PK)</tspan></text>
<use href="#fk" x="910" y="435.7"/>
<text class="r k" y="437.7"><tspan x="926">PROCESADO_FECHA_LOGICO</tspan><tspan x="1021">DATE</tspan><tspan x="1096">NN (PK)</tspan></text>
<use href="#fk" x="910" y="444.1"/>
<text class="r k" y="446.1"><tspan x="926">CONSEJO_CODIGO</tspan><tspan x="1021">VARCHAR2 (10 Char)</tspan><tspan x="1096">NN (PK)</tspan></text>
<use href="#fk" x="910" y="452.5"/>
<text class="r k" y="454.5"><tspan x="926">REGULACION_NUMERO</tspan><tspan x="1021">NUMBER</tspan><tspan x="1096">NN (PK)</tspan></text>
<text class="r" y="462.9"><tspan x="926">DEV_CODIGO</tspan><tspan x="1021">VARCHAR2 (10 Char)</tspan></text>
<text class="r" y="471.3"><tspan x="926">ROOM_ESTUDIO_CODIGO</tspan><tspan x="1021">VARCHAR2 (10 Char)</tspan></text>
<text class="r" y="479.7"><tspan x="926">SET_ESTUDIO_CODIGO</tspan><tspan x="1021">VARCHAR2 (10 Char)</tspan></text>
<text class="r" y="488.1"><tspan x="926">SERIAL_CODIGO</tspan><tspan x="1021">VARCHAR2 (10 Char)</tspan></text>
<text class="r" y="496.5"><tspan x="926">SEP_CODIGO</tspan><tspan x="1021">VARCHAR2 (10 Char)</tspan></text>
<text class="r" y="504.9"><tspan x="926">TOCONSEJO_CODIGO</tspan><tspan x="1021">VARCHAR2 (10 Char)</tspan></text>
<text class="r" y="513.3"><tspan x="926">TRANSICION_CODIGO</tspan><tspan x="1021">VARCHAR2 (10 Char)</tspan></text>
<text class="r" y="521.7"><tspan x="926">CELULACION_CODIGO</tspan><tspan x="1021">VARCHAR2 (10 Char)</tspan></text>
<use href="#fk" x="910" y="528.1"/>
<text class="r k" y="530.1"><tspan x="926">TIBEKIO_CODIGO</tspan><tspan x="1021">VARCHAR2 (10 Char)</tspan><tspan x="1096">NN (PK)</tspan></text>
</g>

<g id="sac_tab_situaciones_regulacion">
<rect class="sh" x="894" y="576" width="232" height="84" rx="3"/>
<rect class="box" x="892" y="574" width="232" height="84" rx="3"/>
<line class="hd" x1="892" y1="583.5" x2="1124" y2="583.5"/>
<text class="tt" x="1008" y="581.5">SAC_TAB_SITUACIONES_REGULACION</text>
<use href="#fk" x="897" y="587"/>
<text class="r k" y="589"><tspan x="913">REGULACION_NUMERO</tspan><tspan x="1008">NUMBER</tspan><tspan x="1084">NN (PK)</tspan></text>
<use href="#fk" x="897" y="595.4"/>
<text class="r k" y="597.4"><tspan x="913">POSICION_NUMERO</tspan><tspan x="1008">NUMBER</tspan><tspan x="1084">NN (PK)</tspan></text>
<use href="#fk" x="897" y="603.8"/>
<text class="r k" y="605.8"><tspan x="913">ESTADO_FECHA</tspan><tspan x="1008">DATE</tspan><tspan x="1084">NN (PK)</tspan></text>
<use href="#fk" x="897" y="612.2"/>
<text class="r k" y="614.2"><tspan x="913">PROCESADO_FECHA_LOGICO</tspan><tspan x="1008">DATE</tspan><tspan x="1084">NN (PK)</tspan></text>
<use href="#fk" x="897" y="620.6"/>
<text class="r k" y="622.6"><tspan x="913">CONSEJO_CODIGO</tspan><tspan x="1008">VARCHAR2 (10 Char)</tspan><tspan x="1084">NN (PK)</tspan></text>
<use href="#fk" x="897" y="629"/>
<text class="r k" y="631"><tspan x="913">TIBEKIO_CODIGO</tspan><tspan x="1008">VARCHAR2 (10 Char)</tspan><tspan x="1084">NN (PK)</tspan></text>
<use href="#fk" x="897" y="637.4"/>
<text class="r k" y="639.4"><tspan x="913">SITUACION_CELULA</tspan><tspan x="1008">VARCHAR2 (30 Char)</tspan><tspan x="1084">NN (PK)</tspan></text>
<text class="r" y="647.8"><tspan x="913">OBSERVACION</tspan><tspan x="1008">VARCHAR2 (300 Char)</tspan></text>
</g>

<g id="sac_tab_detallesinos_alternos">
<rect class="sh" x="871" y="682" width="230" height="119" rx="3"/>
<rect class="box" x="869" y="680" width="230" height="119" rx="3"/>
<line class="hd" x1="869" y1="689.5" x2="1099" y2="689.5"/>
<text class="tt" x="984" y="687.5">SAC_TAB_DETALLESINOS_ALTERNOS</text>
<use href="#fk" x="874" y="692.5"/>
<text class="r k" y="694.5"><tspan x="889">REGULACION_NUMERO</tspan><tspan x="984">NUMBER</tspan><tspan x="1061">NN (PK)</tspan></text>
<use href="#fk" x="874" y="700.9"/>
<text class="r k" y="702.9"><tspan x="889">POSICION_NUMERO</tspan><tspan x="984">NUMBER</tspan><tspan x="1061">NN (PK)</tspan></text>
<use href="#fk" x="874" y="709.3"/>
<text class="r k" y="711.3"><tspan x="889">ESTADO_FECHA</tspan><tspan x="984">DATE</tspan><tspan x="1061">NN (PK)</tspan></text>
<use href="#fk" x="874" y="717.7"/>
<text class="r k" y="719.7"><tspan x="889">PROCESADO_FECHA_LOGICO</tspan><tspan x="984">DATE</tspan><tspan x="1061">NN (PK)</tspan></text>
<use href="#fk" x="874" y="726.1"/>
<text class="r k" y="728.1"><tspan x="889">CONSEJO_CODIGO</tspan><tspan x="984">VARCHAR2 (10 Char)</tspan><tspan x="1061">NN (PK)</tspan></text>
<use href="#fk" x="874" y="734.5"/>
<text class="r k" y="736.5"><tspan x="889">TIBEKIO_CODIGO</tspan><tspan x="984">VARCHAR2 (10 Char)</tspan><tspan x="1061">NN (PK)</tspan></text>
<text class="r" y="744.9"><tspan x="889">OBSERVACION</tspan><tspan x="984">VARCHAR2 (300 Char)</tspan></text>
<text class="r" y="753.3"><tspan x="889">NUMERO_ALUMNOS</tspan><tspan x="984">NUMBER</tspan></text>
<text class="r" y="761.7"><tspan x="889">NUMERO_PAGINAS</tspan><tspan x="984">NUMBER</tspan></text>
<text class="r" y="770.1"><tspan x="889">FECHA_ENVIO</tspan><tspan x="984">NUMBER</tspan></text>
<text class="r" y="778.5"><tspan x="889">ESTATUS</tspan><tspan x="984">NUMBER</tspan></text>
<use href="#fk" x="874" y="784.9"/>
<text class="r k" y="786.9"><tspan x="889">NIVEL_CODIGO</tspan><tspan x="984">VARCHAR2 (10 Char)</tspan><tspan x="1061">NN (PK)</tspan></text>
<use href="#fk" x="874" y="793.3"/>
<text class="r k" y="795.3"><tspan x="889">ALTERNO_CODIGO</tspan><tspan x="984">VARCHAR2 (10 Char)</tspan><tspan x="1061">NN (PK)</tspan></text>
</g>

<g id="sac_tab_detallesinos_estado">
<rect class="sh" x="888" y="853" width="232" height="78" rx="3"/>
<rect class="box" x="886" y="851" width="232" height="78" rx="3"/>
<line class="hd" x1="886" y1="860.5" x2="1118" y2="860.5"/>
<text class="tt" x="1002" y="858.5">SAC_TAB_DETALLESINOS_ESTADO</text>
<use href="#fk" x="891" y="863.5"/>
<text class="r k" y="865.5"><tspan x="906">REGULACION_NUMERO</tspan><tspan x="1001">NUMBER</tspan><tspan x="1078">NN (PK)</tspan></text>
<use href="#fk" x="891" y="871.9"/>
<text class="r k" y="873.9"><tspan x="906">POSICION_NUMERO</tspan><tspan x="1001">NUMBER</tspan><tspan x="1078">NN (PK)</tspan></text>
<use href="#fk" x="891" y="880.3"/>
<text class="r k" y="882.3"><tspan x="906">ESTADO_FECHA</tspan><tspan x="1001">DATE</tspan><tspan x="1078">NN (PK)</tspan></text>
<use href="#fk" x="891" y="888.7"/>
<text class="r k" y="890.7"><tspan x="906">PROCESADO_FECHA_LOGICO</tspan><tspan x="1001">DATE</tspan><tspan x="1078">NN (PK)</tspan></text>
<use href="#fk" x="891" y="897.1"/>
<text class="r k" y="899.1"><tspan x="906">CONSEJO_CODIGO</tspan><tspan x="1001">VARCHAR2 (10 Char)</tspan><tspan x="1078">NN (PK)</tspan></text>
<use href="#fk" x="891" y="905.5"/>
<text class="r k" y="907.5"><tspan x="906">TIBEKIO_CODIGO</tspan><tspan x="1001">VARCHAR2 (10 Char)</tspan><tspan x="1078">NN (PK)</tspan></text>
<use href="#fk" x="891" y="913.9"/>
<text class="r k" y="915.9"><tspan x="906">SINTOMAS_CELULA</tspan><tspan x="1001">VARCHAR2 (30 Char)</tspan><tspan x="1078">NN (PK)</tspan></text>
<text class="r" y="924.3"><tspan x="906">OBSERVACION</tspan><tspan x="1001">VARCHAR2 (300 Char)</tspan></text>
</g>

<g id="sac_tab_detallesinos_documento">
<rect class="sh" x="871" y="990" width="232" height="87" rx="3"/>
<rect class="box" x="869" y="988" width="232" height="87" rx="3"/>
<line class="hd" x1="869" y1="997.5" x2="1101" y2="997.5"/>
<text class="tt" x="985" y="995.5">SAC_TAB_DETALLESINOS_DOCUMENTO</text>
<use href="#fk" x="874" y="1000.5"/>
<text class="r k" y="1002.5"><tspan x="891">REGULACION_NUMERO</tspan><tspan x="986">NUMBER</tspan><tspan x="1063">NN (PK)</tspan></text>
<use href="#fk" x="874" y="1008.9"/>
<text class="r k" y="1010.9"><tspan x="891">POSICION_NUMERO</tspan><tspan x="986">NUMBER</tspan><tspan x="1063">NN (PK)</tspan></text>
<use href="#fk" x="874" y="1017.3"/>
<text class="r k" y="1019.3"><tspan x="891">ESTADO_FECHA</tspan><tspan x="986">DATE</tspan><tspan x="1063">NN (PK)</tspan></text>
<use href="#fk" x="874" y="1025.7"/>
<text class="r k" y="1027.7"><tspan x="891">PROCESADO_FECHA_LOGICO</tspan><tspan x="986">DATE</tspan><tspan x="1063">NN (PK)</tspan></text>
<use href="#fk" x="874" y="1034.1"/>
<text class="r k" y="1036.1"><tspan x="891">CONSEJO_CODIGO</tspan><tspan x="986">VARCHAR2 (10 Char)</tspan><tspan x="1063">NN (PK)</tspan></text>
<use href="#fk" x="874" y="1042.5"/>
<text class="r k" y="1044.5"><tspan x="891">TIBEKIO_CODIGO</tspan><tspan x="986">VARCHAR2 (10 Char)</tspan><tspan x="1063">NN (PK)</tspan></text>
<use href="#fk" x="874" y="1050.9"/>
<text class="r k" y="1052.9"><tspan x="891">DOCUMENTO_CELULA</tspan><tspan x="986">VARCHAR2 (30 Char)</tspan><tspan x="1063">NN (PK)</tspan></text>
<text class="r" y="1061.3"><tspan x="891">OBSERVACION</tspan><tspan x="986">VARCHAR2 (300 Char)</tspan></text>
<text class="r" y="1069.7"><tspan x="891">TIPOS_VEHICULO_CODIGO</tspan><tspan x="986">VARCHAR2 (10 Char)</tspan></text>
</g>

<g id="sac_tab_observacion_articulos">
<rect class="sh" x="1171" y="602" width="227" height="103" rx="3"/>
<rect class="box" x="1169" y="600" width="227" height="103" rx="3"/>
<line class="hd" x1="1169" y1="609.5" x2="1396" y2="609.5"/>
<text class="tt" x="1282.5" y="607.5">SAC_TAB_OBSERVACION_ARTICULOS</text>
<text class="r" y="614.5"><tspan x="1191">OBSERVACION</tspan><tspan x="1284">LONG</tspan></text>
<use href="#fk" x="1174" y="620.9"/>
<text class="r k" y="622.9"><tspan x="1191">TIBEKIO_CODIGO</tspan><tspan x="1284">VARCHAR2 (10 Char)</tspan><tspan x="1357">NN (PK)</tspan></text>
<use href="#fk" x="1174" y="629.3"/>
<text class="r k" y="631.3"><tspan x="1191">POSICION_NUMERO</tspan><tspan x="1284">NUMBER (3)</tspan><tspan x="1357">NN (PK)</tspan></text>
<use href="#fk" x="1174" y="637.7"/>
<text class="r k" y="639.7"><tspan x="1191">PROCESADO_FECHA_LOGICO</tspan><tspan x="1284">DATE</tspan><tspan x="1357">NN (PK)</tspan></text>
<use href="#fk" x="1174" y="646.1"/>
<text class="r k" y="648.1"><tspan x="1191">CONSEJO_CODIGO</tspan><tspan x="1284">VARCHAR2 (10 Char)</tspan><tspan x="1357">NN (PK)</tspan></text>
<use href="#fk" x="1174" y="654.5"/>
<text class="r k" y="656.5"><tspan x="1191">ESTADO_FECHA</tspan><tspan x="1284">DATE</tspan><tspan x="1357">NN (PK)</tspan></text>
<use href="#fk" x="1174" y="662.9"/>
<text class="r k" y="664.9"><tspan x="1191">REGULACION_NUMERO</tspan><tspan x="1284">NUMBER</tspan><tspan x="1357">NN (PK)</tspan></text>
<use href="#fk" x="1174" y="671.3"/>
<text class="r k" y="673.3"><tspan x="1191">CONTROL_CODIGO</tspan><tspan x="1284">VARCHAR2 (10 Char)</tspan><tspan x="1357">NN (PK)</tspan></text>
<use href="#fk" x="1174" y="679.7"/>
<text class="r k" y="681.7"><tspan x="1191">ARTICULO_CODIGO</tspan><tspan x="1284">VARCHAR2 (10 Char)</tspan><tspan x="1357">NN (PK)</tspan></text>
<use href="#fk" x="1174" y="688.1"/>
<text class="r k" y="690.1"><tspan x="1191">REL_ARTIC_CODIGO</tspan><tspan x="1284">VARCHAR2 (10 Char)</tspan><tspan x="1357">NN (PK)</tspan></text>
<use href="#fk" x="1174" y="696.5"/>
<text class="r k" y="698.5"><tspan x="1191">TOCONSEJO_CODIGO</tspan><tspan x="1284">VARCHAR2 (10 Char)</tspan><tspan x="1357">NN (PK)</tspan></text>
</g>

<g id="sac_tab_control_documentos">
<rect class="sh" x="1175" y="779" width="248" height="196" rx="3"/>
<rect class="box" x="1173" y="777" width="248" height="196" rx="3"/>
<line class="hd" x1="1173" y1="786.5" x2="1421" y2="786.5"/>
<text class="tt" x="1297" y="784.5">SAC_TAB_CONTROL_DOCUMENTOS</text>
<use href="#pk" x="1178" y="789.5"/>
<text class="r k" y="791.5"><tspan x="1194">CODIGO</tspan><tspan x="1304">VARCHAR2 (16 Char)</tspan><tspan x="1384">NN (PK)</tspan></text>
<text class="r" y="799.9"><tspan x="1194">CONTENIDO</tspan><tspan x="1304">VARCHAR2 (4000 Char)</tspan><tspan x="1384">NN</tspan></text>
<text class="r" y="808.3"><tspan x="1194">OBSERVACION</tspan><tspan x="1304">VARCHAR2 (300 Char)</tspan></text>
<text class="r" y="816.7"><tspan x="1194">FUNCION</tspan><tspan x="1304">VARCHAR2 (1 Char)</tspan><tspan x="1384">NN</tspan></text>
<use href="#fk" x="1178" y="823.1"/>
<text class="r k" y="825.1"><tspan x="1194">RELACION_CODIGO</tspan><tspan x="1304">VARCHAR2 (10 Char)</tspan><tspan x="1384">NN (PK)</tspan></text>
<use href="#fk" x="1178" y="831.5"/>
<text class="r k" y="833.5"><tspan x="1194">PROGRAMA_CODIGO</tspan><tspan x="1304">VARCHAR2 (10 Char)</tspan><tspan x="1384">NN (PK)</tspan></text>
<text class="r" y="841.9"><tspan x="1194">CONTROL_DIN_ANALIZ_CODIGO</tspan><tspan x="1304">VARCHAR2 (10 Char)</tspan></text>
<text class="r" y="850.3"><tspan x="1194">PROGRAMA_MODELO_CODIGO</tspan><tspan x="1304">VARCHAR2 (10 Char)</tspan></text>
<text class="r" y="858.7"><tspan x="1194">CONTROL_CODIGO</tspan><tspan x="1304">VARCHAR2 (10 Char)</tspan></text>
<use href="#fk" x="1178" y="865.1"/>
<text class="r k" y="867.1"><tspan x="1194">TOCONTROL_CODIGO</tspan><tspan x="1304">VARCHAR2 (10 Char)</tspan><tspan x="1384">NN (PK)</tspan></text>
<text class="r" y="875.5"><tspan x="1194">CONTROL_T_CONTROL_CODIGO</tspan><tspan x="1304">VARCHAR2 (10 Char)</tspan></text>
<text class="r" y="883.9"><tspan x="1194">TIPO</tspan><tspan x="1304">VARCHAR2 (10 Char)</tspan><tspan x="1384">NN</tspan></text>
<text class="r" y="892.3"><tspan x="1194">SECUENCIA_1</tspan><tspan x="1304">NUMBER</tspan></text>
<text class="r" y="900.7"><tspan x="1194">SECUENCIA_2</tspan><tspan x="1304">NUMBER</tspan></text>
<text class="r" y="909.1"><tspan x="1194">SECUENCIA_3</tspan><tspan x="1304">NUMBER</tspan></text>
<text class="r" y="917.5"><tspan x="1194">SECUENCIA_4</tspan><tspan x="1304">NUMBER</tspan></text>
<text class="r" y="925.9"><tspan x="1194">SECUENCIA_5</tspan><tspan x="1304">NUMBER</tspan></text>
<text class="r" y="934.3"><tspan x="1194">SECUENCIA_6</tspan><tspan x="1304">NUMBER</tspan></text>
<text class="r" y="942.7"><tspan x="1194">SECUENCIA_7</tspan><tspan x="1304">NUMBER</tspan></text>
<text class="r" y="951.1"><tspan x="1194">SECUENCIA_8</tspan><tspan x="1304">NUMBER</tspan></text>
<text class="r" y="959.5"><tspan x="1194">SECUENCIA_9</tspan><tspan x="1304">NUMBER</tspan></text>
<text class="r" y="967.9"><tspan x="1194">SECUENCIA_10</tspan><tspan x="1304">NUMBER</tspan></text>
</g>

<g id="sac_tab_documentos_enlace">
<rect class="sh" x="1188" y="1005" width="205" height="102" rx="3"/>
<rect class="box" x="1186" y="1003" width="205" height="102" rx="3"/>
<line class="hd" x1="1186" y1="1012.5" x2="1391" y2="1012.5"/>
<text class="tt" x="1288.5" y="1010.5">SAC_TAB_DOCUMENTOS_ENLACE</text>
<use href="#pk" x="1191" y="1015.5"/>
<text class="r k" y="1017.5"><tspan x="1203">CODIGO</tspan><tspan x="1266">VARCHAR2 (16 Char)</tspan><tspan x="1351">NN (PK)</tspan></text>
<text class="r" y="1025.9"><tspan x="1203">NOMBRE</tspan><tspan x="1266">VARCHAR2 (1000 Char)</tspan><tspan x="1351">NN</tspan></text>
<text class="r" y="1034.3"><tspan x="1203">DESCRIPCION</tspan><tspan x="1266">VARCHAR2 (4000 Char)</tspan><tspan x="1351">NN</tspan></text>
<text class="r" y="1042.7"><tspan x="1203">OBSERVACION</tspan><tspan x="1266">VARCHAR2 (4000 Char)</tspan></text>
<text class="r" y="1051.1"><tspan x="1203">FECHA_CREACION</tspan><tspan x="1266">DATE</tspan></text>
<text class="r" y="1059.5"><tspan x="1203">ESTADO</tspan><tspan x="1266">VARCHAR2 (1 Char)</tspan><tspan x="1351">NN</tspan></text>
<use href="#fk" x="1191" y="1065.9"/>
<text class="r k" y="1067.9"><tspan x="1203">RELACION_CODIGO</tspan><tspan x="1266">VARCHAR2 (16 Char)</tspan><tspan x="1351">NN (PK)</tspan></text>
<text class="r" y="1076.3"><tspan x="1203">REF_CODIGO</tspan><tspan x="1266">VARCHAR2 (20 Char)</tspan><tspan x="1351">NN</tspan></text>
<text class="r" y="1084.7"><tspan x="1203">SERIALCODIGO</tspan><tspan x="1266">VARCHAR2 (10 Char)</tspan><tspan x="1351">NN</tspan></text>
<text class="r" y="1093.1"><tspan x="1203">DOC</tspan><tspan x="1266">VARCHAR2 (4000 Char)</tspan></text>
<text class="r" y="1101.5"><tspan x="1203">DOC1</tspan><tspan x="1266">CLOB</tspan></text>
</g>

<g id="labels">
<text class="lb" x="101" y="36">CONSEJO_LABORALES_FK</text>
<text class="lb" x="66" y="160">SINTOMAS_SINTOMAS_FK</text>
<text class="lb" x="143" y="179">CONSEJO_SINTOMA_FK</text>
<text class="lb" x="226" y="288">SINTOMAS_PROCESO_FK</text>
<text class="lb" x="181" y="332">ALTERNO_SINTOMAS_FK</text>
<text class="lb" x="276" y="343">FK_PROCESO_SINTOMAS_FK</text>
<text class="lb" x="299" y="252">PROCESO_CONSEJO_FK</text>
<text class="lb" x="417" y="330">REGISTRO_CONSEJO_FK</text>
<text class="lb" x="598" y="253">CARRERAS_SPM</text>
<text class="lb" x="768" y="303">SERVICIOS_BIENES_FK</text>
<text class="lb" x="386" y="84">SITUACION_REGULACION_FK</text>
<text class="lb" x="1026" y="185">REGULACION_ESTADOS_FK</text>
<text class="lb" x="1031" y="360">TREGULACION_REGULACION_FK</text>
<text class="lb" x="18" y="486">TREGULACION_OBJETO_FK</text>
<text class="lb" x="302" y="468">UNOCONSEJO_CONSEJO_FK</text>
<text class="lb" x="563" y="462">CONSEJO_CONSEJO_FK</text>
<text class="lb" x="768" y="441">PRECIO_BIENES_FK</text>
<text class="lb" x="277" y="557">CONSEJO_TOCONSEJO_FK</text>
<text class="lb" x="103" y="676">TRELACION_TCONSEJO_FK</text>
<text class="lb" x="360" y="653">TOCONSEJO_TCONSEJO_FK</text>
<text class="lb" x="469" y="642">DOC_SERIAL_CONSEJO_FK</text>
<text class="lb" x="688" y="625">REGULACION_POSICION_FK</text>
<text class="lb" x="62" y="762">TRELACION_CONSEJO_FK</text>
<text class="lb" x="133" y="863">PTODUELTRATADOS_FK</text>
<text class="lb" x="220" y="846">TABSOLUCION_DOC_SERVICIO_FK</text>
<text class="lb" x="583" y="870">DOC_SERIAL_TIPO_SERIAL_FK</text>
<text class="lb" x="773" y="1080">FK_TIPOS_VEHICULO_DOCUMENTO</text>
<text class="lb" x="1322" y="486">REGLAMT_OBSLUCION_FK</text>
<text class="lb" x="1405" y="586">CONTROL_TCONTROL_FK</text>
<text class="lb" x="1649" y="420">TCONTROL_TCONTROL_FK</text>
<text class="lb" x="1276" y="753">REGLAMT_CONTROL_FK</text>
<text class="lb" x="1427" y="1140">CONTROL_CONTROL_FK</text>
<text class="lb" x="152" y="570">F_CODIGO_TIPOS_FK</text>
</g>
</svg>
